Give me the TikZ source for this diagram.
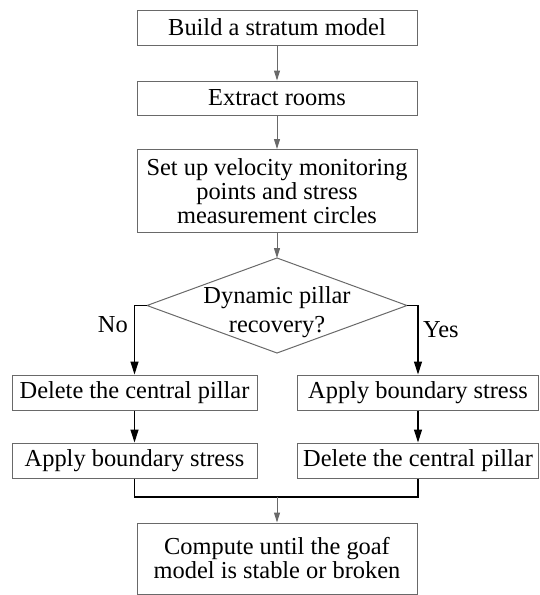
\documentclass[tikz,border=0pt]{standalone}
\usepackage{fontspec}
\setmainfont{Liberation Serif}
\usetikzlibrary{arrows.meta}
\definecolor{lgray}{RGB}{105,105,105}
\begin{document}
\begin{tikzpicture}[x=1pt,y=-1pt,
  box/.style={draw=lgray,line width=1pt,rectangle,inner sep=0pt,align=center,
    font=\fontsize{24.4}{24}\selectfont},
  garrow/.style={draw=lgray,line width=1pt,-{Triangle[length=10pt,width=6pt]}},
  barrow/.style={draw=black,line width=1.2pt,-{Triangle[length=13pt,width=8pt]}},
  bline/.style={draw=black,line width=1.2pt},
  lbl/.style={font=\fontsize{24.4}{29}\selectfont,inner sep=0pt,align=center}]
\useasboundingbox (0,0) rectangle (539,595);
\node[box,minimum width=280pt,minimum height=35pt] (b1) at (277,27.5) {Build a stratum model};
\node[box,minimum width=280pt,minimum height=34pt] (b2) at (277,98) {Extract rooms};
\node[box,minimum width=280pt,minimum height=83pt] (b3) at (277,191)
  {Set up velocity monitoring\\points and stress\\measurement circles};
\coordinate (dt) at (277,258);
\coordinate (dl) at (147,305.5);
\coordinate (dr) at (407,305.5);
\coordinate (db) at (277,353);
\draw[draw=lgray,line width=1pt] (dt) -- (dr) -- (db) -- (dl) -- cycle;
\node[lbl] (dq) at (277,312) {Dynamic pillar\\recovery?};
\node[box,minimum width=245pt,minimum height=35pt] (b4) at (134.5,392.5) {Delete the central pillar};
\node[box,minimum width=245pt,minimum height=35pt] (b6) at (134.5,460.5) {Apply boundary stress};
\node[box,minimum width=241pt,minimum height=35pt] (b5) at (418,392.5) {Apply boundary stress};
\node[box,minimum width=241pt,minimum height=35pt] (b7) at (418,460.5) {Delete the central pillar};
\node[box,minimum width=280pt,minimum height=71pt] (b8) at (277,558.5)
  {Compute until the goaf\\model is stable or broken};
\node[lbl,anchor=base east] (no) at (128,332) {No};
\node[lbl,anchor=base west] (yes) at (423,337) {Yes};
\coordinate (mg) at (277,497);
\draw[garrow] (b1.south) -- (b2.north);
\draw[garrow] (b2.south) -- (b3.north);
\draw[garrow] (b3.south) -- (dt);
\draw[barrow] (dl) -| (b4.north);
\draw[barrow] (dr) -| (b5.north);
\draw[barrow] (b4.south) -- (b6.north);
\draw[barrow] (b5.south) -- (b7.north);
\draw[bline] (b6.south) |- (mg) -| (b7.south);
\draw[garrow] (mg) -- (b8.north);
\end{tikzpicture}
\end{document}
